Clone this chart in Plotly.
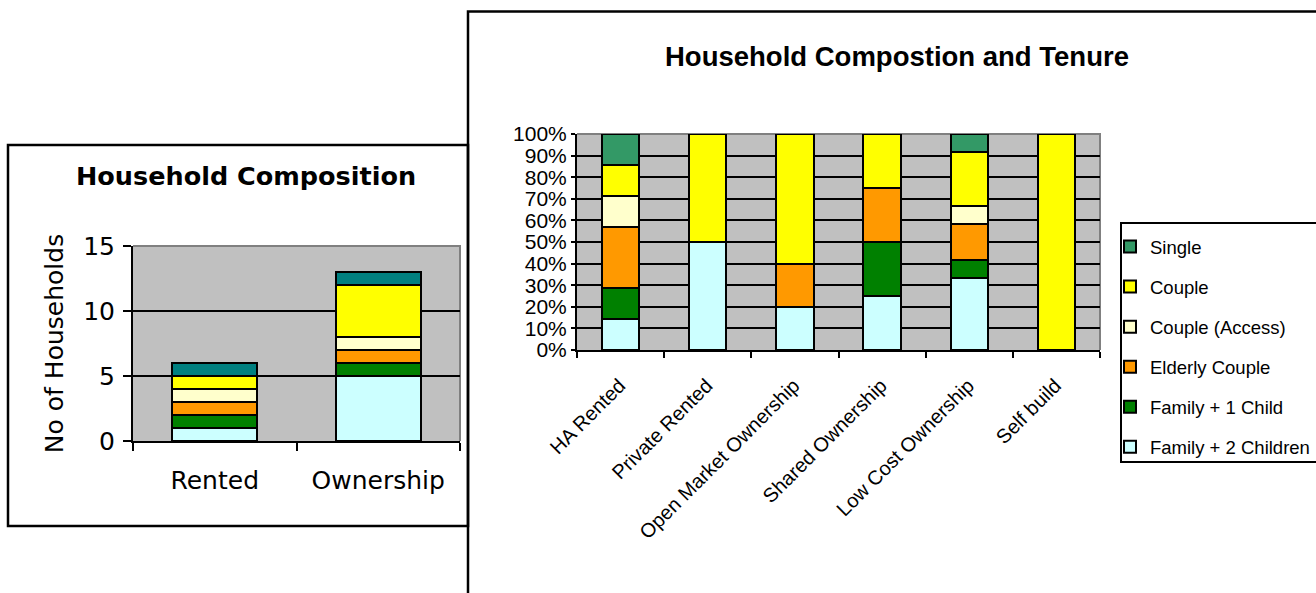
import numpy as np
import plotly.graph_objects as go

# Household types, stacked from the bottom of each bar upwards
household_types = ["Family + 2 Children", "Family + 1 Child", "Elderly Couple",
                   "Couple (Access)", "Couple", "Single"]

# Left panel: number of households by broad tenure
tenure_groups = ["Rented", "Ownership"]
family_2_children = [1, 5]
family_1_child = [1, 1]
elderly_couple = [1, 1]
couple_access = [1, 1]
couple = [1, 4]
single = [1, 1]

# Right panel: households by detailed tenure (shown as share of each tenure)
tenures = ["HA Rented", "Private Rented", "Open Market Ownership",
           "Shared Ownership", "Low Cost Ownership", "Self build"]
t_family_2_children = [1, 1, 1, 1, 4, 0]
t_family_1_child = [1, 0, 0, 1, 1, 0]
t_elderly_couple = [2, 0, 1, 1, 2, 0]
t_couple_access = [1, 0, 0, 0, 1, 0]
t_couple = [1, 1, 3, 1, 3, 1]
t_single = [1, 0, 0, 0, 1, 0]

left_colors = ["#CCFFFF", "#008000", "#FF9900", "#FFFFCC", "#FFFF00", "#008080"]
right_colors = ["#CCFFFF", "#008000", "#FF9900", "#FFFFCC", "#FFFF00", "#339966"]

W, H = 1316, 593


def px_x(v):
    return v / W


def px_y(v):
    return (H - v) / H


left_series = [family_2_children, family_1_child, elderly_couple,
               couple_access, couple, single]
right_counts = np.array([t_family_2_children, t_family_1_child, t_elderly_couple,
                         t_couple_access, t_couple, t_single], dtype=float)
right_share = right_counts / right_counts.sum(axis=0) * 100

fig = go.Figure()

for name, vals, col in zip(household_types, left_series, left_colors):
    fig.add_trace(go.Bar(
        x=tenure_groups, y=vals, name=name, marker_color=col,
        marker_line=dict(color="black", width=2), width=0.52,
        xaxis="x", yaxis="y", showlegend=False,
    ))

n_types = len(household_types)
for i, (name, col) in enumerate(zip(household_types, right_colors)):
    fig.add_trace(go.Bar(
        x=tenures, y=right_share[i], name=name, marker_color=col,
        marker_line=dict(color="black", width=2), width=0.43,
        xaxis="x2", yaxis="y2", legendgroup=name, showlegend=True,
        legendrank=n_types - i,
    ))

verdana = "DejaVu Sans"
arial = "Liberation Sans"

fig.update_layout(
    width=W, height=H, autosize=False,
    margin=dict(l=0, r=0, t=0, b=0, autoexpand=False),
    paper_bgcolor="white",
    plot_bgcolor="#C0C0C0",
    barmode="stack",
    xaxis=dict(
        domain=[px_x(133), px_x(460)], anchor="y",
        tickson="boundaries", ticks="outside", ticklen=8, tickwidth=2,
        tickcolor="black", showline=True, linecolor="black", linewidth=2,
        showgrid=False, ticklabelstandoff=16,
        tickfont=dict(family=verdana, size=25, color="black"),
    ),
    yaxis=dict(
        domain=[px_y(441), px_y(246)], anchor="x",
        range=[0, 15], tickvals=[0, 5, 10, 15],
        ticks="outside", ticklen=8, tickwidth=2, tickcolor="black",
        showline=True, linecolor="black", linewidth=2,
        showgrid=True, gridcolor="black", gridwidth=2, zeroline=False,
        ticklabelstandoff=3,
        tickfont=dict(family=verdana, size=25, color="black"),
        title=dict(text="No of Households", standoff=12,
                   font=dict(family=verdana, size=25, color="black")),
    ),
    xaxis2=dict(
        domain=[px_x(577), px_x(1100)], anchor="y2",
        tickson="boundaries", ticks="outside", ticklen=6, tickwidth=2,
        tickcolor="black", showline=True, linecolor="black", linewidth=2,
        showgrid=False, tickangle=-45,
        ticklabelstandoff=14, ticklabelshift=-1,
        tickfont=dict(family=arial, size=20, color="black"),
    ),
    yaxis2=dict(
        domain=[px_y(350), px_y(134)], anchor="x2",
        range=[0, 100], dtick=10, ticksuffix="%",
        ticks="outside", ticklen=4, tickwidth=2, tickcolor="black",
        showline=True, linecolor="black", linewidth=2,
        showgrid=True, gridcolor="black", gridwidth=2, zeroline=False,
        ticklabelstandoff=0,
        tickfont=dict(family=arial, size=21, color="black"),
    ),
    legend=dict(
        x=px_x(1110), y=px_y(228), xanchor="left", yanchor="top",
        bgcolor="rgba(0,0,0,0)", borderwidth=0,
        traceorder="grouped", tracegroupgap=13,
        font=dict(family=arial, size=18.5, color="black"),
    ),
    showlegend=True,
)

# Chart frames
fig.add_shape(type="rect", xref="paper", yref="paper",
              x0=px_x(8), x1=px_x(468), y0=px_y(526), y1=px_y(145),
              line=dict(color="black", width=2.5), layer="below")
fig.add_shape(type="rect", xref="paper", yref="paper",
              x0=px_x(468), x1=1.02, y0=-0.02, y1=px_y(11.5),
              line=dict(color="black", width=2.5), layer="above")

# Legend box, running off the right edge
fig.add_shape(type="rect", xref="paper", yref="paper",
              x0=px_x(1121), x1=1.02, y0=px_y(462), y1=px_y(223),
              line=dict(color="black", width=2), fillcolor="white", layer="below")

# Grey top and right edges of each plot area
for xr, yr in (("x", "y"), ("x2", "y2")):
    fig.add_shape(type="path", xref=f"{xr} domain", yref=f"{yr} domain",
                  path="M 0 1 L 1 1 L 1 0",
                  line=dict(color="#808080", width=2), layer="below")

fig.add_annotation(text="<b>Household Composition</b>", xref="paper", yref="paper",
                   x=px_x(246), y=px_y(176), xanchor="center", yanchor="middle",
                   showarrow=False, font=dict(family=verdana, size=25.5, color="black"))
fig.add_annotation(text="<b>Household Compostion and Tenure</b>", xref="paper",
                   yref="paper", x=px_x(897), y=px_y(57), xanchor="center",
                   yanchor="middle", showarrow=False,
                   font=dict(family=arial, size=27.5, color="black"))

fig.write_html("out.html")
